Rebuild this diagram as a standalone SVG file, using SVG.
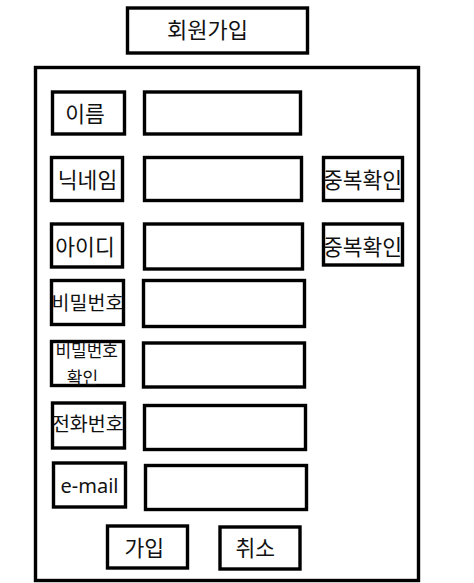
<svg xmlns="http://www.w3.org/2000/svg" width="474" height="583" viewBox="0 0 474 583">
<style>
rect{fill:#fff;stroke:#000;stroke-width:3.4}
text{font-family:"Noto Sans CJK KR","Noto Sans",sans-serif;fill:#111;text-anchor:middle;font-size:21.5px}
.s19{font-size:19.5px}
.s17{font-size:17px}
.lat{font-family:"Noto Sans","Noto Sans CJK KR",sans-serif;font-size:20px}
</style>
<rect x="0" y="0" width="474" height="583" style="stroke:none"/>
<g id="title"><rect x="127.5" y="8" width="180" height="45"/><text x="207.5" y="37.5" style="font-size:22px">회원가입</text></g>
<g id="form"><rect x="35.5" y="67.5" width="383" height="513"/></g>
<g id="lbl-name"><rect x="52.5" y="92" width="72" height="42"/><text x="85" y="122">이름</text></g>
<g id="in-name"><rect x="144.5" y="92" width="156" height="42"/></g>
<g id="lbl-nick"><rect x="51.5" y="157.5" width="71" height="43"/><text x="87.5" y="188">닉네임</text></g>
<g id="in-nick"><rect x="144.5" y="157.5" width="157" height="43"/></g>
<g id="chk-nick"><rect x="323.5" y="157.5" width="79" height="43"/><text x="362.5" y="188">중복확인</text></g>
<g id="lbl-id"><rect x="51.5" y="224" width="71" height="43"/><text x="85" y="255">아이디</text></g>
<g id="in-id"><rect x="144.5" y="224" width="158" height="45"/></g>
<g id="chk-id"><rect x="323.5" y="224" width="79" height="41"/><text x="362.5" y="255">중복확인</text></g>
<g id="lbl-pw"><rect x="51.5" y="280.5" width="72" height="44"/><text class="s19" x="87.5" y="310">비밀번호</text></g>
<g id="in-pw"><rect x="143.5" y="280.5" width="161" height="46"/></g>
<g id="lbl-pw2"><rect x="51.5" y="341.5" width="72" height="44"/><text class="s17" x="86.7" y="356.5">비밀번호</text><text class="s17" x="82.5" y="384">확인</text></g>
<g id="in-pw2"><rect x="143.5" y="343" width="161" height="44"/></g>
<g id="lbl-tel"><rect x="52.5" y="403" width="72" height="45"/><text class="s19" x="87.8" y="430.5">전화번호</text></g>
<g id="in-tel"><rect x="144.5" y="405.5" width="161" height="44"/></g>
<g id="lbl-mail"><rect x="53.5" y="463" width="72" height="44"/><text class="lat" x="89.5" y="493">e-mail</text></g>
<g id="in-mail"><rect x="145.5" y="465.5" width="161" height="44"/></g>
<g id="btn-join"><rect x="107.5" y="526" width="80" height="42"/><text x="144.2" y="555.5">가입</text></g>
<g id="btn-cancel"><rect x="220" y="527" width="80" height="42"/><text x="255.3" y="555.5">취소</text></g>
<g id="connectors"></g>
</svg>
